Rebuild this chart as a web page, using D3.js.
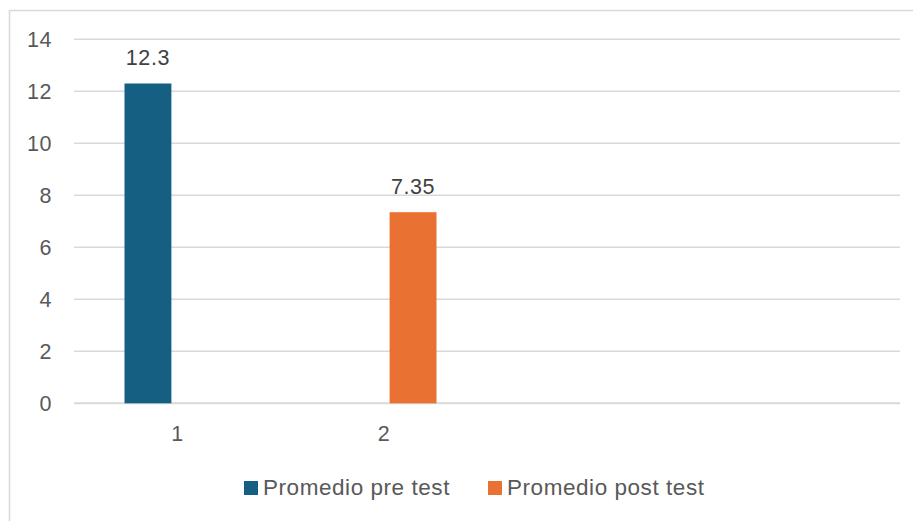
<!DOCTYPE html>
<html>
<head>
<meta charset="utf-8">
<script src="https://cdn.jsdelivr.net/npm/d3@7"></script>
<style>
  body { margin: 0; background: #fff; }
  svg { display: block; font-family: "Liberation Sans", Arial, sans-serif; }
</style>
</head>
<body>
<svg id="chart" width="913" height="521"></svg>
<script>
// chart data
const categories = ["1", "2", "", ""];
const seriesNames = ["Promedio pre test", "Promedio post test"];
const preTest = [12.3, null, null, null];
const postTest = [null, 7.35, null, null];
const yTicks = [0, 2, 4, 6, 8, 10, 12, 14];
const colors = ["#156082", "#E97132"];

const svg = d3.select("#chart");
const W = 913, H = 521;
const plot = { left: 74, right: 900, top: 39.3, bottom: 403.3 };

// outer frame (right / bottom edges fall outside the picture)
svg.append("rect")
    .attr("x", 9.5).attr("y", 10.5)
    .attr("width", W + 10).attr("height", H + 10)
    .attr("fill", "#fff")
    .attr("stroke", "#d9d9d9")
    .attr("stroke-width", 1.5);

const x0 = d3.scaleBand()
    .domain(d3.range(categories.length))
    .range([plot.left, plot.right])
    .padding(0);

const x1 = d3.scaleBand()
    .domain(seriesNames)
    .range([x0.bandwidth() / 2 - 52.75, x0.bandwidth() / 2 + 52.75])
    .paddingInner(0.2);

const y = d3.scaleLinear()
    .domain([0, 14])
    .range([plot.bottom, plot.top]);

// gridlines
svg.append("g")
    .selectAll("line")
    .data(yTicks)
    .join("line")
    .attr("x1", plot.left).attr("x2", plot.right)
    .attr("y1", d => y(d)).attr("y2", d => y(d))
    .attr("stroke", "#d9d9d9")
    .attr("stroke-width", d => d === 0 ? 2 : 1.5);

// y tick labels
svg.append("g")
    .selectAll("text")
    .data(yTicks)
    .join("text")
    .attr("x", 52)
    .attr("y", d => y(d))
    .attr("dy", "0.35em")
    .attr("text-anchor", "end")
    .attr("fill", "#595959")
    .attr("font-size", 21.5)
    .attr("letter-spacing", 0.5)
    .text(d => d);

// x category labels
svg.append("g")
    .selectAll("text")
    .data(categories)
    .join("text")
    .attr("x", (d, i) => x0(i) + x0.bandwidth() / 2)
    .attr("y", 441)
    .attr("text-anchor", "middle")
    .attr("fill", "#595959")
    .attr("font-size", 21.5)
    .text(d => d);

// bars
const seriesData = [preTest, postTest];
seriesData.forEach((vals, s) => {
    const pts = vals.map((v, i) => ({ i, v })).filter(d => d.v != null);
    const g = svg.append("g");
    g.selectAll("rect")
        .data(pts)
        .join("rect")
        .attr("x", d => x0(d.i) + x1(seriesNames[s]))
        .attr("y", d => y(d.v))
        .attr("width", x1.bandwidth())
        .attr("height", d => y(0) - y(d.v))
        .attr("fill", colors[s]);
    g.selectAll("text")
        .data(pts)
        .join("text")
        .attr("x", d => x0(d.i) + x1(seriesNames[s]) + x1.bandwidth() / 2)
        .attr("y", d => y(d.v) - 18.5)
        .attr("text-anchor", "middle")
        .attr("fill", "#404040")
        .attr("font-size", 21.5)
        .attr("letter-spacing", 0.6)
        .text(d => d.v);
});

// legend
const legendX = [244, 488];
const legend = svg.append("g");
seriesNames.forEach((name, s) => {
    legend.append("rect")
        .attr("x", legendX[s]).attr("y", 481)
        .attr("width", 14).attr("height", 14)
        .attr("fill", colors[s]);
    legend.append("text")
        .attr("x", legendX[s] + 19)
        .attr("y", 494.5)
        .attr("fill", "#595959")
        .attr("font-size", 22.5)
        .attr("letter-spacing", 0.55)
        .text(name);
});
</script>
</body>
</html>
